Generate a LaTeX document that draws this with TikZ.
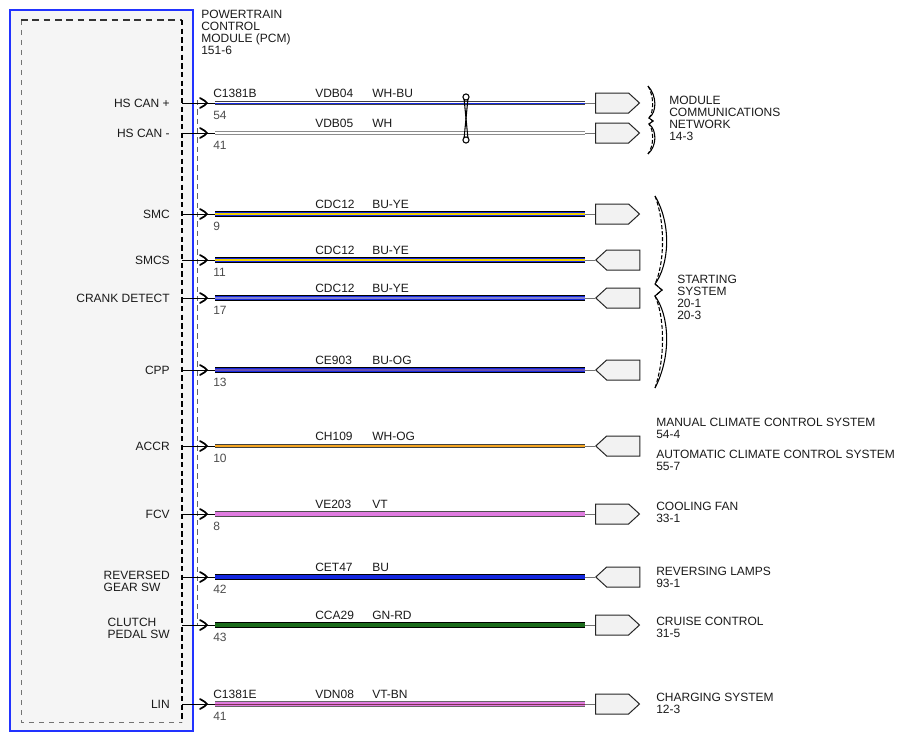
\documentclass[tikz,border=0pt]{standalone}
\usepackage{fontspec}
\setmainfont{Liberation Sans}
\usetikzlibrary{shapes.symbols}
\definecolor{txt}{HTML}{1A1A1A}
\definecolor{wblue}{HTML}{1428E0}
\definecolor{mblue}{HTML}{2233FF}
\definecolor{wyel}{HTML}{F0D000}
\definecolor{wora}{HTML}{F5A623}
\definecolor{wpink}{HTML}{E07CE0}
\definecolor{wgreen}{HTML}{1B6B1B}
\definecolor{cfill}{HTML}{F2F2F2}
\definecolor{mfill}{HTML}{F5F5F5}
\definecolor{strcrank}{HTML}{8080D0}
\definecolor{strcpp}{HTML}{6A4FB0}
\definecolor{strlin}{HTML}{7A3050}
\begin{document}
\begin{tikzpicture}[x=0.75pt,y=-0.75pt,
  every node/.style={font=\fontsize{9}{9}\selectfont, text=txt, inner sep=0pt},
  lbl/.style={anchor=base west},
  pinno/.style={anchor=base west, text=black!70},
  sys/.style={anchor=north west, align=left},
  pinlbl/.style={anchor=east, align=left},
  conn/.style={signal, signal from=nowhere, draw=black!85, fill=cfill, line width=0.75pt,
    minimum width=33pt, minimum height=15pt, signal pointer angle=85, anchor=west},
  stub/.style={line width=0.7pt, black},
  cstub/.style={line width=0.6pt, black!55},
  wWB/.style={line width=2.2pt, white, preaction={draw=black!75, line width=3.6pt}, postaction={draw=wblue, line width=0.7pt}},
  wW/.style={line width=2.2pt, white, preaction={draw=black!45, line width=3.4pt}},
  wBY/.style={line width=2.6pt, wblue, preaction={draw=black, line width=3.9pt}, postaction={draw=wyel, line width=0.8pt}},
  wBYc/.style={line width=2.6pt, wblue, preaction={draw=black, line width=3.9pt}, postaction={draw=strcrank, line width=0.9pt}},
  wBO/.style={line width=2.6pt, wblue, preaction={draw=black, line width=3.9pt}, postaction={draw=strcpp, line width=0.9pt}},
  wWO/.style={line width=2.2pt, white, preaction={draw=black!75, line width=3.4pt}, postaction={draw=wora, line width=0.9pt}},
  wVT/.style={line width=2.8pt, wpink, preaction={draw=black!70, line width=3.9pt}},
  wBU/.style={line width=2.8pt, wblue, preaction={draw=black, line width=3.9pt}},
  wGN/.style={line width=2.8pt, wgreen, preaction={draw=black, line width=3.9pt}},
  wVB/.style={line width=2.6pt, wpink, preaction={draw=black!60, line width=3.9pt}, postaction={draw=strlin, line width=0.6pt}},
  chev/.pic={\draw[line width=1.3pt, line cap=round] (-7,-5) .. controls (-4,-4) and (-1,-1) .. (0,0) .. controls (-1,1) and (-4,4) .. (-7,5);},
  bracesolid/.style={line width=0.8pt, black},
  bracedash/.style={line width=0.8pt, black, dash pattern=on 3pt off 1.5pt}
]
\useasboundingbox (0,0) rectangle (905,742);

% module box
\draw[mblue, line width=1.5pt, fill=mfill] (10,10) rectangle (193,731);
\draw[black!55, line width=0.6pt, dash pattern=on 4pt off 3.5pt] (21,20) -- (21,722) -- (182,722);
\draw[black!80, line width=0.9pt, dash pattern=on 5pt off 3.5pt] (21,20) -- (182,20);
\draw[black, line width=1.8pt, dash pattern=on 4pt off 2.5pt] (182,20) -- (182,722);
\draw[black!60, line width=0.5pt, dash pattern=on 4pt off 3pt] (197,100) -- (197,625);

\node[sys] (pcm) at (201,10) {POWERTRAIN\\CONTROL\\MODULE (PCM)\\151-6};

% left pin labels
\node[pinlbl] (l1) at (170,103) {HS CAN +};
\node[pinlbl] (l2) at (170,133) {HS CAN -};
\node[pinlbl] (l3) at (170,214) {SMC};
\node[pinlbl] (l4) at (170,260) {SMCS};
\node[pinlbl] (l5) at (170,298) {CRANK DETECT};
\node[pinlbl] (l6) at (170,370) {CPP};
\node[pinlbl] (l7) at (170,446) {ACCR};
\node[pinlbl] (l8) at (170,514) {FCV};
\node[pinlbl] (l9) at (170,581) {REVERSED\\GEAR SW};
\node[pinlbl] (l10) at (170,628) {CLUTCH\\PEDAL SW};
\node[pinlbl] (l11) at (170,704) {LIN};

% wires
\foreach \n/\y/\pin/\cir/\col/\ws/\dir in {
  1/103/54/VDB04/WH-BU/wWB/east,
  2/133/41/VDB05/WH/wW/east,
  3/214/9/CDC12/BU-YE/wBY/east,
  4/260/11/CDC12/BU-YE/wBY/west,
  5/298/17/CDC12/BU-YE/wBYc/west,
  6/370/13/CE903/BU-OG/wBO/west,
  7/446/10/CH109/WH-OG/wWO/west,
  8/514/8/VE203/VT/wVT/east,
  9/577/42/CET47/BU/wBU/west,
  10/625/43/CCA29/GN-RD/wGN/east,
  11/704/41/VDN08/VT-BN/wVB/east}
{
  \coordinate (m\n) at (182,\y);
  \coordinate (p\n) at (215,\y);
  \coordinate (e\n) at (585,\y);
  \node[conn, signal to=\dir] (c\n) at (595,\y) {};
  \draw[stub] (m\n) -- (p\n);
  \pic at (207,\y) {chev};
  \draw[\ws] (p\n) -- (e\n);
  \draw[cstub] (e\n) -- (c\n.west);
  \node[lbl] (cn\n) at (315,\y-6) {\cir};
  \node[lbl] (cc\n) at (372,\y-6) {\col};
  \node[pinno] (pn\n) at (213,\y+16.5) {\pin};
}
\node[lbl] (conB) at (213,97) {C1381B};
\node[lbl] (conE) at (213,698) {C1381E};

% twisted pair
\draw[line width=0.8pt] (464,98) -- (468,139);
\draw[line width=0.8pt] (468,98) -- (464,139);
\draw[line width=0.8pt, fill=white] (466,97) circle [radius=2.3pt];
\draw[line width=0.8pt, fill=white] (466,140) circle [radius=2.3pt];

% braces
\draw[bracesolid] (648,86) .. controls (657,96) and (657,112) .. (649,118) -- (653,121) -- (649,124) .. controls (657,130) and (657,146) .. (648,154);
\draw[bracedash] (648,86) .. controls (654,96) and (654,112) .. (649,118) -- (653,121) -- (649,124) .. controls (654,130) and (654,146) .. (648,154);
\draw[bracesolid] (655,196) .. controls (672,225) and (669,265) .. (655,284) -- (662,290) -- (655,296) .. controls (669,315) and (672,355) .. (655,388);
\draw[bracedash] (655,196) .. controls (666,225) and (664,265) .. (655,284) -- (662,290) -- (655,296) .. controls (664,315) and (666,355) .. (655,388);

% system labels
\node[sys] (smcn) at (669,96) {MODULE\\COMMUNICATIONS\\NETWORK\\14-3};
\node[sys] (sstart) at (677,275) {STARTING\\SYSTEM\\20-1\\20-3};
\node[sys] (smccs) at (656,418) {MANUAL CLIMATE CONTROL SYSTEM\\54-4};
\node[sys] (saccs) at (656,450) {AUTOMATIC CLIMATE CONTROL SYSTEM\\55-7};
\node[sys] (sfan) at (656,502) {COOLING FAN\\33-1};
\node[sys] (srev) at (656,567) {REVERSING LAMPS\\93-1};
\node[sys] (scru) at (656,617) {CRUISE CONTROL\\31-5};
\node[sys] (schg) at (656,693) {CHARGING SYSTEM\\12-3};
\end{tikzpicture}
\end{document}
